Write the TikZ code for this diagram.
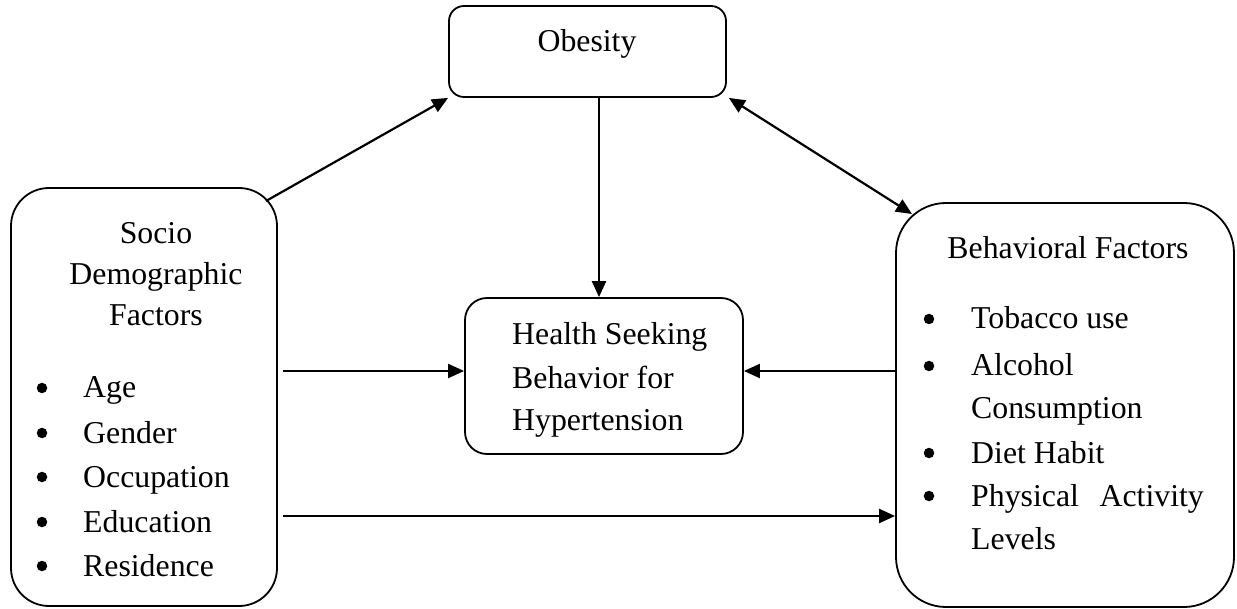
\documentclass[tikz,border=0pt]{standalone}
\usepackage{fontspec}
\setmainfont{Liberation Serif}
\usetikzlibrary{arrows.meta}
\begin{document}
\begin{tikzpicture}[x=1pt,y=-1pt,
  box/.style={draw,line width=1.8pt,inner sep=0pt},
  txt/.style={inner sep=0pt,anchor=base,font=\fontsize{31.8}{40}\selectfont},
  ltxt/.style={txt,anchor=base west},
  bul/.style={circle,fill=black,inner sep=0pt,minimum size=10.5pt},
  arr/.style={line width=2.2pt,-{Triangle[length=16pt,width=14pt]}},
  darr/.style={line width=2.2pt,{Triangle[length=16pt,width=14pt]}-{Triangle[length=16pt,width=14pt]}}]
\useasboundingbox (0,0) rectangle (1237,609);
% boxes
\node[box,rounded corners=15pt,minimum width=277pt,minimum height=91pt] (O) at (587.5,51.5) {};
\node[box,rounded corners=38pt,minimum width=266pt,minimum height=418pt] (L) at (144,397) {};
\node[box,rounded corners=50pt,minimum width=338pt,minimum height=404pt] (R) at (1065,405) {};
\node[box,rounded corners=22pt,minimum width=278pt,minimum height=156pt] (C) at (604,376) {};
% texts
\node[txt] (ot) at (587,52) {Obesity};
\node[txt] (l1) at (156,244) {Socio};
\node[txt] (l2) at (156,285) {Demographic};
\node[txt] (l3) at (156,326) {Factors};
\foreach \n/\t/\y in {a/Age/398,b/Gender/443,c/Occupation/487,d/Education/532,e/Residence/576}{
  \node[bul] (lb\n) at (42,\y-10) {};
  \node[ltxt] (lt\n) at (83,\y) {\t};
}
\node[txt] (r0) at (1068,259) {Behavioral Factors};
\foreach \n/\t/\y in {a/Tobacco use/329,b/Alcohol/376,c/Diet Habit/463,d/Physical/506}{
  \node[bul] (rb\n) at (929,\y-10) {};
  \node[ltxt] (rt\n) at (971,\y) {\t};
}
\node[ltxt] (rtb2) at (971,419) {Consumption};
\node[txt,anchor=base east] (rtd2) at (1204,506) {Activity};
\node[ltxt] (rtd3) at (971,549) {Levels};
\node[ltxt] (c1) at (512,345) {Health Seeking};
\node[ltxt] (c2) at (512,389) {Behavior for};
\node[ltxt] (c3) at (512,431) {Hypertension};
% connectors
\coordinate (s1) at (266,201);
\coordinate (t3) at (912,214);
\coordinate (s4) at (283,371);
\coordinate (s6) at (283,516);
\draw[arr] (s1) -- (O.south west);
\draw[arr] ([xshift=11.5pt]O.south) -- ([xshift=-5pt]C.north);
\draw[darr] ([xshift=2pt]O.south east) -- (t3);
\draw[arr] (s4) -- (C.west |- s4);
\draw[arr] (R.west |- s4) -- (C.east |- s4);
\draw[arr] (s6) -- (R.west |- s6);
\end{tikzpicture}
\end{document}
